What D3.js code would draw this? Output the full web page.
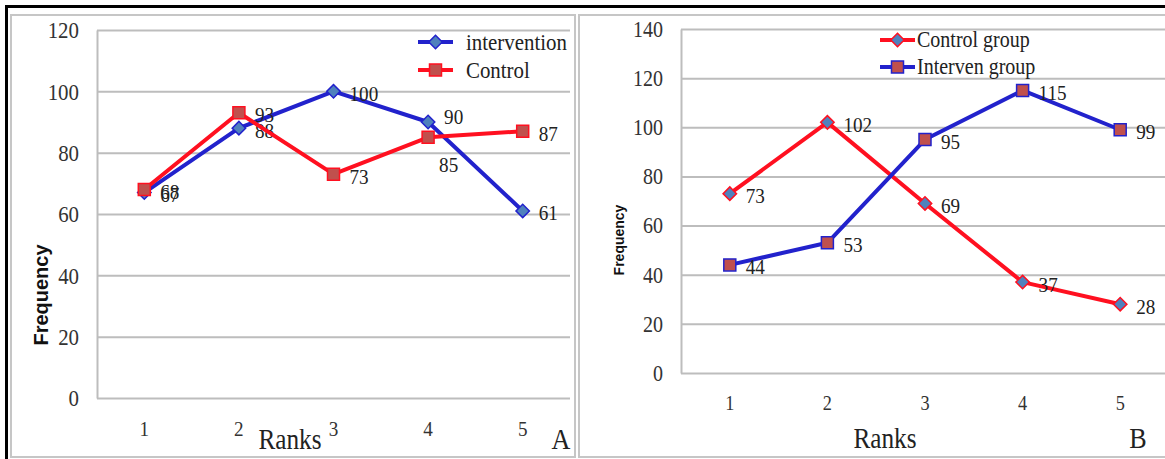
<!DOCTYPE html>
<html>
<head>
<meta charset="utf-8">
<script src="https://cdn.jsdelivr.net/npm/d3@7"></script>
<style>
  body { margin: 0; background: #fff; }
  svg { display: block; }
</style>
</head>
<body>
<div id="chart"></div>
<script>
// data
var ranks = [1, 2, 3, 4, 5];

var aIntervention = [67, 88, 100, 90, 61];
var aControl = [68, 93, 73, 85, 87];
var aTicks = [0, 20, 40, 60, 80, 100, 120];

var bControl = [73, 102, 69, 37, 28];
var bIntervention = [44, 53, 95, 115, 99];
var bTicks = [0, 20, 40, 60, 80, 100, 120, 140];

var BLUE = "#2222cc", RED = "#ff1020";
var DIAMOND_FILL = "#4f81bd", SQUARE_FILL = "#c0504d";
var GRID = "#bdbdbd";
var SERIF = "'Liberation Serif', 'Times New Roman', serif";
var SQUISH = 0.87;   // the scanned figure is a bit narrow horizontally

var svg = d3.select("#chart")
  .append("svg")
    .attr("width", 1165)
    .attr("height", 459);

// outer black frame (top + left only, rest is cropped)
svg.append("rect").attr("x", 5).attr("y", 5).attr("width", 1160).attr("height", 3).attr("fill", "#000");
svg.append("rect").attr("x", 5).attr("y", 5).attr("width", 3).attr("height", 454).attr("fill", "#000");

// panel borders
svg.append("rect").attr("x", 11).attr("y", 15).attr("width", 564).attr("height", 442)
  .attr("fill", "none").attr("stroke", "#c6c6c6").attr("stroke-width", 2);
svg.append("rect").attr("x", 579).attr("y", 15).attr("width", 620).attr("height", 442)
  .attr("fill", "none").attr("stroke", "#c6c6c6").attr("stroke-width", 2);

function marker(sel, type, fill, stroke) {
  if (type == "square") {
    sel.append("path")
      .attr("d", d3.symbol(d3.symbolSquare, 144)())
      .attr("fill", fill).attr("stroke", stroke).attr("stroke-width", 1.5);
  } else {
    sel.append("path")
      .attr("d", d3.symbol(d3.symbolSquare, 90)())
      .attr("transform", "rotate(45)")
      .attr("fill", fill).attr("stroke", stroke).attr("stroke-width", 1.5);
  }
}

// serif text placed with a narrow horizontal scale
function label(g, x, y, str, size, anchor) {
  return g.append("text")
    .attr("transform", "translate(" + x + "," + y + ") scale(" + SQUISH + ",1)")
    .attr("text-anchor", anchor || "start")
    .attr("dominant-baseline", "central")
    .attr("font-family", SERIF)
    .attr("font-size", size)
    .attr("fill", "#222")
    .text(str);
}

function drawPanel(p) {
  var g = svg.append("g");

  var x = d3.scaleBand().domain(ranks).range([p.left, p.right]);
  var y = d3.scaleLinear().domain([0, p.yMax]).range([p.bottom, p.top]);
  var cx = function(r) { return x(r) + x.bandwidth() / 2; };

  // y axis + gridlines
  var yAxis = g.append("g")
    .attr("transform", "translate(" + p.left + ",0)")
    .call(d3.axisLeft(y).tickValues(p.yTicks)
      .tickSizeInner(-(p.right - p.left)).tickSizeOuter(0).tickPadding(18));
  yAxis.select(".domain").attr("stroke", GRID).attr("stroke-width", 2);
  yAxis.selectAll(".tick line").attr("stroke", GRID).attr("stroke-width", 2);
  yAxis.selectAll(".tick text")
    .attr("font-family", SERIF).attr("font-size", p.yFont).attr("fill", "#333")
    .attr("x", -18 / SQUISH)
    .attr("transform", "scale(" + SQUISH + ",1)");

  // x axis labels
  var xAxis = g.append("g")
    .attr("transform", "translate(0," + p.bottom + ")")
    .call(d3.axisBottom(x).tickSize(0).tickPadding(p.xPad));
  xAxis.select(".domain").remove();
  xAxis.selectAll(".tick text")
    .attr("font-family", SERIF).attr("font-size", p.xFont).attr("fill", "#333")
    .attr("transform", "scale(" + SQUISH + ",1)");

  // series
  p.series.forEach(function(s) {
    var pts = ranks.map(function(r, i) { return {r: r, v: s.values[i], i: i}; });
    g.append("path")
      .datum(pts)
      .attr("fill", "none")
      .attr("stroke", s.color)
      .attr("stroke-width", 4)
      .attr("stroke-linejoin", "round")
      .attr("d", d3.line().x(function(d) { return cx(d.r); }).y(function(d) { return y(d.v); }));

    pts.forEach(function(d) {
      var m = g.append("g").attr("transform", "translate(" + cx(d.r) + "," + y(d.v) + ")");
      marker(m, s.marker, s.markerFill, s.color);
    });

    pts.forEach(function(d) {
      var dx = s.nudgeX ? s.nudgeX[d.i] : 16;
      var dy = s.nudgeY ? s.nudgeY[d.i] : 2;
      label(g, cx(d.r) + dx, y(d.v) + dy, d.v, p.labelFont);
    });
  });

  // legend
  p.series.forEach(function(s, i) {
    var ly = p.legendY[i];
    g.append("line")
      .attr("x1", p.legendX).attr("x2", p.legendX + 35)
      .attr("y1", ly).attr("y2", ly)
      .attr("stroke", s.color).attr("stroke-width", 4);
    var m = g.append("g").attr("transform", "translate(" + (p.legendX + 17.5) + "," + ly + ")");
    marker(m, s.marker, s.markerFill, s.color);
    label(g, p.legendX + p.legendGap, ly, s.name, p.legendFont);
  });

  // axis titles
  g.append("text")
    .attr("transform", "translate(" + p.freqX + "," + p.freqY + ") rotate(-90)")
    .attr("text-anchor", "middle")
    .attr("dominant-baseline", "central")
    .attr("font-family", "'Liberation Sans', Arial, sans-serif")
    .attr("font-weight", "bold")
    .attr("font-size", p.freqFont)
    .attr("fill", "#111")
    .text("Frequency");

  label(g, p.ranksX, p.ranksY, "Ranks", p.ranksFont, "middle");
  label(g, p.letterX, p.ranksY, p.letter, 30, "middle");
}

drawPanel({
  left: 97, right: 570, top: 30, bottom: 398, yMax: 120, yTicks: aTicks,
  yFont: 24, xFont: 22, xPad: 22, labelFont: 22,
  series: [
    {name: "intervention", values: aIntervention, color: BLUE, marker: "diamond", markerFill: DIAMOND_FILL,
     nudgeY: [2, 2, 2, -5, 2]},
    {name: "Control", values: aControl, color: RED, marker: "square", markerFill: SQUARE_FILL,
     nudgeX: [16, 16, 16, 11, 16], nudgeY: [2, 2, 2, 27, 2]}
  ],
  legendX: 418, legendGap: 48, legendY: [42, 70], legendFont: 24,
  freqX: 41, freqY: 295, freqFont: 20,
  ranksX: 290, ranksY: 439, ranksFont: 29, letterX: 561, letter: "A"
});

drawPanel({
  left: 681, right: 1169, top: 29, bottom: 373, yMax: 140, yTicks: bTicks,
  yFont: 23, xFont: 21, xPad: 22, labelFont: 22,
  series: [
    {name: "Control group", values: bControl, color: RED, marker: "diamond", markerFill: DIAMOND_FILL},
    {name: "Interven group", values: bIntervention, color: BLUE, marker: "square", markerFill: SQUARE_FILL}
  ],
  legendX: 880, legendGap: 37, legendY: [40, 67], legendFont: 23,
  freqX: 619, freqY: 240, freqFont: 14,
  ranksX: 885, ranksY: 438, ranksFont: 29, letterX: 1138, letter: "B"
});
</script>
</body>
</html>
